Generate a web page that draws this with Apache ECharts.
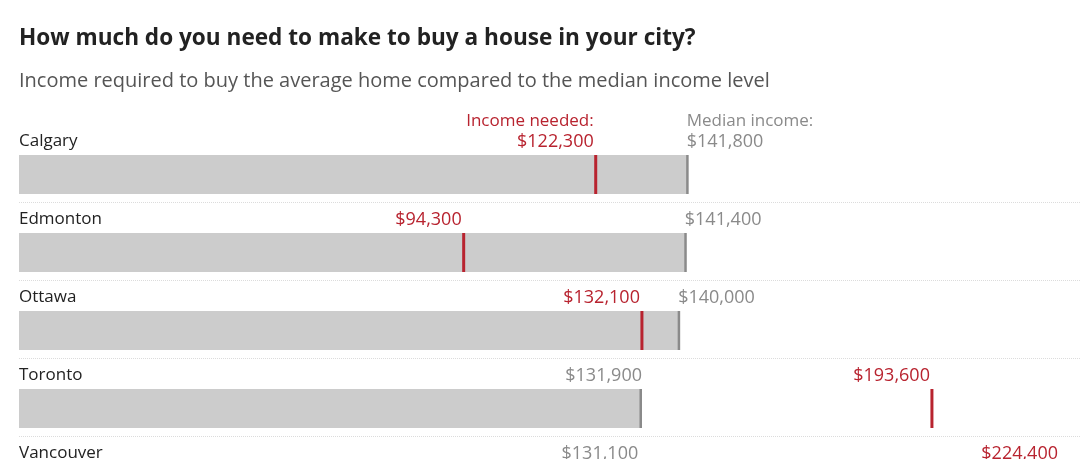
<!DOCTYPE html>
<html>
<head>
<meta charset="utf-8">
<script src="https://cdn.jsdelivr.net/npm/echarts@6/dist/echarts.min.js"></script>
<style>
  html, body { margin: 0; padding: 0; background: #fff; }
  #main { width: 1080px; height: 459px; }
</style>
</head>
<body>
<div id="main"></div>
<script>
// Data
var cities = ['Calgary', 'Edmonton', 'Ottawa', 'Toronto', 'Vancouver'];
var medianIncome = [141800, 141400, 140000, 131900, 131100];
var incomeNeeded = [122300, 94300, 132100, 193600, 224400];

var FONT = '"Open Sans", sans-serif';
var RED = '#b8232f';
var GREY = '#8a8a8a';

function money(v) {
    return '$' + v.toLocaleString('en-US');
}

//Build the rows for the custom series: [row index, median, needed]
var rows = [];
for (var i = 0; i < cities.length; i++) {
    rows.push([i, medianIncome[i], incomeNeeded[i]]);
}

function renderRow(params, api) {
    var idx = api.value(0);
    var med = api.value(1);
    var need = api.value(2);
    var origin = api.coord([0, idx]);
    var pMed = api.coord([med, idx]);
    var pNeed = api.coord([need, idx]);
    var band = api.size([0, 1])[1];
    var c = origin[1];
    var barH = band * 0.5;
    var top = c - barH / 2;
    var textY = top - 13.5;
    var rightLimit = params.coordSys.x + params.coordSys.width - 22;

    var kids = [];

    //Dotted separator under the row.
    kids.push({
        type: 'line',
        shape: { x1: origin[0], y1: c + 28, x2: 1080, y2: c + 28 },
        style: { stroke: '#dcdcdc', lineWidth: 1, lineDash: [1, 1] }
    });

    //City name.
    kids.push({
        type: 'text',
        x: origin[0], y: textY,
        style: { text: cities[idx], font: '17px ' + FONT, fill: '#222', align: 'left', verticalAlign: 'middle' }
    });

    //Grey bar up to the median income.
    kids.push({
        type: 'rect',
        shape: { x: origin[0], y: top, width: pMed[0] - origin[0], height: barH },
        style: { fill: '#cccccc' }
    });
    kids.push({
        type: 'rect',
        shape: { x: pMed[0] - 1.5, y: top, width: 2.5, height: barH },
        style: { fill: GREY }
    });

    //Red tick for income needed.
    kids.push({
        type: 'rect',
        shape: { x: pNeed[0] - 1.5, y: top, width: 3, height: barH },
        style: { fill: RED }
    });

    //Labels: red always right aligned, grey flips side depending on the red one.
    var redX = Math.min(pNeed[0] - 2, rightLimit);
    kids.push({
        type: 'text',
        x: redX, y: textY,
        style: { text: money(need), font: '18px ' + FONT, fill: RED, align: 'right', verticalAlign: 'middle' }
    });
    var greyLeft = med > need;
    var greyX = greyLeft ? pMed[0] - 1 : pMed[0] + 1;
    kids.push({
        type: 'text',
        x: greyX, y: textY,
        style: { text: money(med), font: '18px ' + FONT, fill: GREY, align: greyLeft ? 'left' : 'right', verticalAlign: 'middle' }
    });

    //Header words only on the first row.
    if (idx === 0) {
        kids.push({
            type: 'text',
            x: redX, y: textY - 20,
            style: { text: 'Income needed:', font: '17px ' + FONT, fill: RED, align: 'right', verticalAlign: 'middle' }
        });
        kids.push({
            type: 'text',
            x: greyX, y: textY - 20,
            style: { text: 'Median income:', font: '17px ' + FONT, fill: GREY, align: 'left', verticalAlign: 'middle' }
        });
    }

    return { type: 'group', children: kids };
}

var chart = echarts.init(document.getElementById('main'), null, { renderer: 'canvas' });

chart.setOption({
    animation: false,
    backgroundColor: '#fff',
    title: {
        text: 'How much do you need to make to buy a house in your city?',
        subtext: 'Income required to buy the average home compared to the median income level',
        left: 14,
        top: 21,
        itemGap: 18,
        textStyle: { fontFamily: FONT, fontSize: 22.6, lineHeight: 26, fontWeight: 'bold', color: '#222' },
        subtextStyle: { fontFamily: FONT, fontSize: 20, lineHeight: 22, color: '#555' }
    },
    grid: { left: 19, right: 0, top: 135.5, height: 390, outerBoundsMode: 'none' },
    xAxis: { type: 'value', min: 0, max: 225000, show: false },
    yAxis: { type: 'category', data: cities, inverse: true, show: false },
    series: [{
        type: 'custom',
        renderItem: renderRow,
        encode: { x: [1, 2], y: 0 },
        data: rows,
        clip: false
    }]
});
</script>
</body>
</html>
